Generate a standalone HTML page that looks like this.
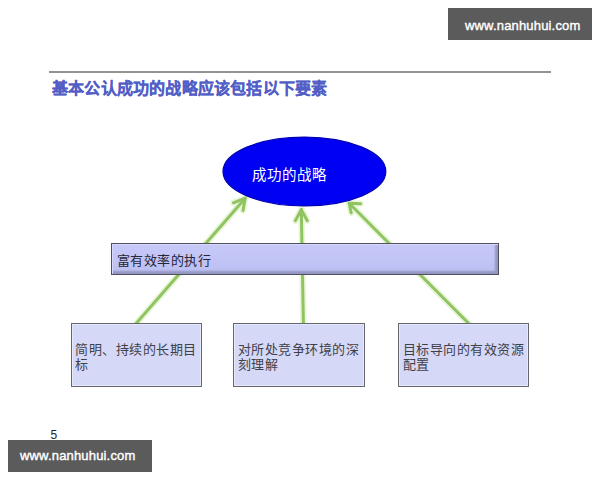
<!DOCTYPE html>
<html lang="zh-CN">
<head>
<meta charset="utf-8">
<style>
html,body{margin:0;padding:0;background:#fff;}
body{width:600px;height:480px;position:relative;overflow:hidden;font-family:"Liberation Sans",sans-serif;}
.abs{position:absolute;}
.wm{position:absolute;background:#5b5b5b;color:#fff;font-family:"Liberation Sans",sans-serif;font-size:13px;font-weight:normal;-webkit-text-stroke:0.4px #fff;letter-spacing:0.17px;width:144px;height:32px;line-height:32px;white-space:nowrap;}
.wm span{position:relative;}
.title{position:absolute;left:52px;top:75px;font-size:16px;font-weight:bold;color:#525ec6;-webkit-text-stroke:0.18px #525ec6;white-space:nowrap;letter-spacing:0.2px;}
.rule{position:absolute;left:48.5px;top:71px;width:502.5px;height:2px;background:#939393;}
.bar{position:absolute;left:111px;top:243px;width:388px;height:32px;box-sizing:border-box;background:linear-gradient(#c6c9f8,#bcbff2);border:1px solid #50505e;box-shadow:inset 1px 1px 0 #d6d8fc, inset -3px -3px 2px #9496c2;}
.bar span{position:absolute;left:5px;top:8.6px;font-family:"Liberation Serif",serif;font-size:13px;letter-spacing:0.45px;font-weight:500;color:#262636;white-space:nowrap;line-height:15px;}
.box{position:absolute;top:323px;width:131px;height:64px;box-sizing:border-box;background:#d6d8f7;border:1px solid #66666e;box-shadow:inset 1px 1px 0 #e6e8fc, inset -1px -1px 0 #e6e8fc;}
.box span{position:absolute;left:3.95px;top:17.5px;width:126px;font-size:13px;letter-spacing:0.5px;line-height:15.5px;color:#404048;}
.num{position:absolute;left:50.4px;top:428px;font-size:12px;color:#222;}
</style>
</head>
<body>
<div class="wm" style="left:448px;top:8px;"><span style="padding-left:17px;top:1.5px">www.nanhuhui.com</span></div>

<div class="rule"></div>
<div class="title">基本公认成功的战略应该包括以下要素</div>

<svg class="abs" style="left:0;top:0" width="600" height="480" viewBox="0 0 600 480">
  <g stroke="#eaf6d8" stroke-width="6.5" stroke-linecap="round" stroke-linejoin="round" fill="none">
    <line x1="136.3" y1="323.3" x2="245.2" y2="198.2"/>
    <polyline points="233.4,202.8 245.2,198.2 243,210.5"/>
    <line x1="303.4" y1="323.3" x2="301.3" y2="209.6"/>
    <polyline points="295.3,220.8 301.3,209.6 307.3,220.8"/>
    <line x1="468.5" y1="323.3" x2="349.2" y2="203.3"/>
    <polyline points="360.7,203.8 349.2,203.3 351.2,212.8"/>
  </g>
  <ellipse cx="304.4" cy="171.5" rx="81.4" ry="34.4" fill="#0000f2" stroke="#0000b4" stroke-width="1.2"/>
  <g stroke="#90c463" stroke-width="3" stroke-linecap="round" stroke-linejoin="round" fill="none">
    <line x1="136.3" y1="323.3" x2="245.2" y2="198.2"/>
    <polyline points="233.4,202.8 245.2,198.2 243,210.5"/>
    <line x1="303.4" y1="323.3" x2="301.3" y2="209.6"/>
    <polyline points="295.3,220.8 301.3,209.6 307.3,220.8"/>
    <line x1="468.5" y1="323.3" x2="349.2" y2="203.3"/>
    <polyline points="360.7,203.8 349.2,203.3 351.2,212.8"/>
  </g>
  <text x="251.5" y="179.5" fill="#fff" font-size="14.5" letter-spacing="1" font-family="Liberation Sans, sans-serif">成功的战略</text>
</svg>

<div class="bar"><span>富有效率的执行</span></div>

<div class="box" style="left:71px;"><span style="left:3.2px">简明、持续的长期目标</span></div>
<div class="box" style="left:233px;width:132px;"><span>对所处竞争环境的深刻理解</span></div>
<div class="box" style="left:398px;"><span>目标导向的有效资源配置</span></div>

<div class="num">5</div>
<div class="wm" style="left:8px;top:440px;"><span style="padding-left:12px">www.nanhuhui.com</span></div>
</body>
</html>
